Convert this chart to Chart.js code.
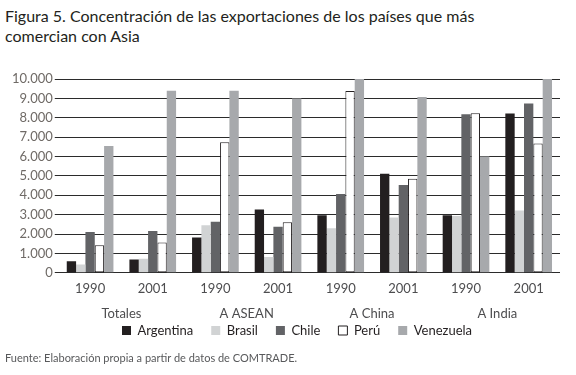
<!DOCTYPE html>
<html>
<head>
<meta charset="utf-8">
<script src="https://cdn.jsdelivr.net/npm/chart.js@4"></script>
<style>
  html, body { margin: 0; padding: 0; background: #fff; }
  body { width: 576px; height: 375px; position: relative; overflow: hidden; font-family: Lato, "Noto Sans", sans-serif; }
  #title { position: absolute; left: 5px; top: 6px; font-size: 16px; line-height: 20px; color: #231f20; }
  #source { position: absolute; left: 5px; top: 351px; font-size: 11px; color: #58595b; }
  #wrap { position: absolute; left: 0; top: 60px; width: 576px; height: 305px; }
</style>
</head>
<body>
<div id="title">Figura 5. Concentración de las exportaciones de los países que más<br>comercian con Asia</div>
<div id="wrap"><canvas id="chart"></canvas></div>
<div id="source">Fuente: Elaboración propia a partir de datos de COMTRADE.</div>
<script>
const years = ['1990', '2001', '1990', '2001', '1990', '2001', '1990', '2001'];
const groups = ['Totales', 'A ASEAN', 'A China', 'A India'];
const yTicks = [0, 1000, 2000, 3000, 4000, 5000, 6000, 7000, 8000, 9000, 10000];

const argentina = [600, 690, 1820, 3260, 2970, 5110, 2970, 8220];
const brasil    = [430, 720, 2450, 810, 2300, 2850, 2930, 3220];
const chile     = [2110, 2160, 2640, 2370, 4070, 4530, 8180, 8730];
const peru      = [1420, 1560, 6740, 2610, 9380, 4850, 8230, 6670];
const venezuela = [6540, 9400, 9400, 9000, 10000, 9070, 6000, 10000];

const fontFamily = 'Lato, "Noto Sans", sans-serif';

function bars(label, data, color, border) {
  return {
    label: label,
    data: data,
    backgroundColor: color,
    borderColor: border || color,
    borderWidth: border ? 1 : 0,
    borderSkipped: false,
    xAxisID: 'x',
    barPercentage: 1,
    categoryPercentage: 0.745
  };
}

// nudge the legend closer to the axis labels, as in the printed figure
const legendNudge = {
  id: 'legendNudge',
  afterLayout: function(chart) {
    const lg = chart.legend;
    lg.top -= 18; lg.bottom -= 18;
    lg.left += 12; lg.right += 12;
  }
};

new Chart(document.getElementById('chart'), {
  type: 'bar',
  data: {
    labels: years,
    datasets: [
      bars('Argentina', argentina, '#231f20'),
      bars('Brasil', brasil, '#d1d3d4'),
      bars('Chile', chile, '#626366'),
      bars('Perú', peru, '#ffffff', '#231f20'),
      bars('Venezuela', venezuela, '#a7a9ac')
    ]
  },
  plugins: [legendNudge],
  options: {
    responsive: true,
    maintainAspectRatio: false,
    animation: false,
    layout: { padding: { left: 10, right: 16, top: 19, bottom: 0 } },
    plugins: {
      tooltip: { enabled: false },
      legend: {
        position: 'bottom',
        labels: {
          boxWidth: 9,
          boxHeight: 9,
          padding: 18,
          color: '#231f20',
          font: { family: fontFamily, size: 13 }
        }
      }
    },
    scales: {
      x: {
        position: 'bottom',
        grid: { display: false, drawTicks: false },
        border: { display: false },
        ticks: { color: '#4d4d4f', font: { family: fontFamily, size: 13 }, padding: 8, maxRotation: 0 }
      },
      x2: {
        type: 'category',
        labels: groups,
        position: 'bottom',
        offset: true,
        grid: { display: false, drawTicks: false },
        border: { display: false },
        ticks: { color: '#4d4d4f', font: { family: fontFamily, size: 13 }, padding: 2, maxRotation: 0 }
      },
      y: {
        min: 0,
        max: 10000,
        afterBuildTicks: function(scale) {
          scale.ticks = yTicks.map(function(v) { return { value: v }; });
        },
        border: { display: false },
        grid: { color: '#2b2b2b', lineWidth: 1, tickLength: 4 },
        ticks: {
          autoSkip: false,
          color: '#6f6a66',
          padding: 2,
          font: { family: fontFamily, size: 13 },
          callback: function(v) { return String(v).replace(/\B(?=(\d{3})+(?!\d))/g, '.'); }
        }
      }
    }
  }
});
</script>
</body>
</html>
